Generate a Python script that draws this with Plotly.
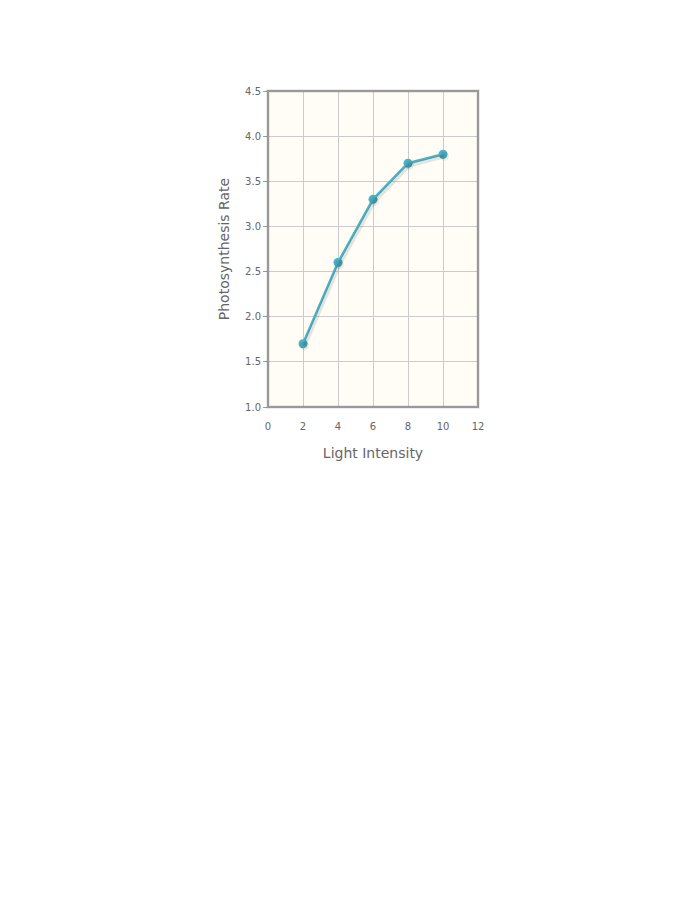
import plotly.graph_objects as go

light_intensity = [2, 4, 6, 8, 10]
photosynthesis_rate = [1.7, 2.6, 3.3, 3.7, 3.8]
x_ticks = [0, 2, 4, 6, 8, 10, 12]
y_ticks = [1.0, 1.5, 2.0, 2.5, 3.0, 3.5, 4.0, 4.5]

W, H = 700, 900
L, T = 260, 83
pw, ph = 210, 316
R = W - L - pw
B = H - T - ph
xr = [0, 12]
yr = [1.0, 4.5]
# shadow offset in pixels
dx_px, dy_px = 1.5, 2.0
ux = (xr[1] - xr[0]) / pw
uy = (yr[1] - yr[0]) / ph

font = "DejaVu Sans"
fig = go.Figure()
fig.add_trace(go.Scatter(
    x=light_intensity, y=photosynthesis_rate, mode="lines+markers",
    line=dict(color="rgba(0,0,0,0.10)", width=4),
    marker=dict(size=9, color="rgba(0,0,0,0.08)"),
    xaxis="x2", yaxis="y2", hoverinfo="skip", showlegend=False))
fig.add_trace(go.Scatter(
    x=light_intensity, y=photosynthesis_rate, mode="lines+markers",
    line=dict(color="#4bb2c5", width=2.5),
    marker=dict(size=9, color="#4bb2c5", line=dict(width=0)),
    showlegend=False))

fig.update_layout(
    width=W, height=H,
    margin=dict(l=L, r=R, t=T, b=B),
    paper_bgcolor="white", plot_bgcolor="#fffdf6",
    font=dict(family=font, color="#666666", size=10),
    xaxis=dict(range=xr, tickvals=x_ticks, ticktext=[str(v) for v in x_ticks],
               showgrid=True, gridcolor="#cccccc", gridwidth=1, zeroline=False,
               showline=False, ticks="outside", ticklen=10, tickcolor="rgba(0,0,0,0)",
               title=dict(text="Light Intensity", font=dict(size=14, color="#666666"), standoff=17),
               tickfont=dict(size=10, color="#666666")),
    yaxis=dict(range=yr, tickvals=y_ticks, ticktext=[f"{v:.1f}" for v in y_ticks],
               showgrid=True, gridcolor="#cccccc", gridwidth=1, zeroline=False,
               showline=False, ticks="outside", ticklen=4, tickcolor="#999999",
               title=dict(text="Photosynthesis Rate", font=dict(size=14, color="#666666"), standoff=12),
               tickfont=dict(size=10, color="#666666")),
    xaxis2=dict(range=[xr[0] - dx_px * ux, xr[1] - dx_px * ux], overlaying="x", visible=False),
    yaxis2=dict(range=[yr[0] + dy_px * uy, yr[1] + dy_px * uy], overlaying="y", visible=False),
    shapes=[
        dict(type="rect", xref="paper", yref="paper", x0=0, x1=1, y0=0, y1=1,
             line=dict(color="rgba(0,0,0,0.08)", width=4)),
        dict(type="rect", xref="paper", yref="paper", x0=0, x1=1, y0=0, y1=1,
             line=dict(color="#999999", width=2)),
    ],
)
fig.write_html("out.html")
